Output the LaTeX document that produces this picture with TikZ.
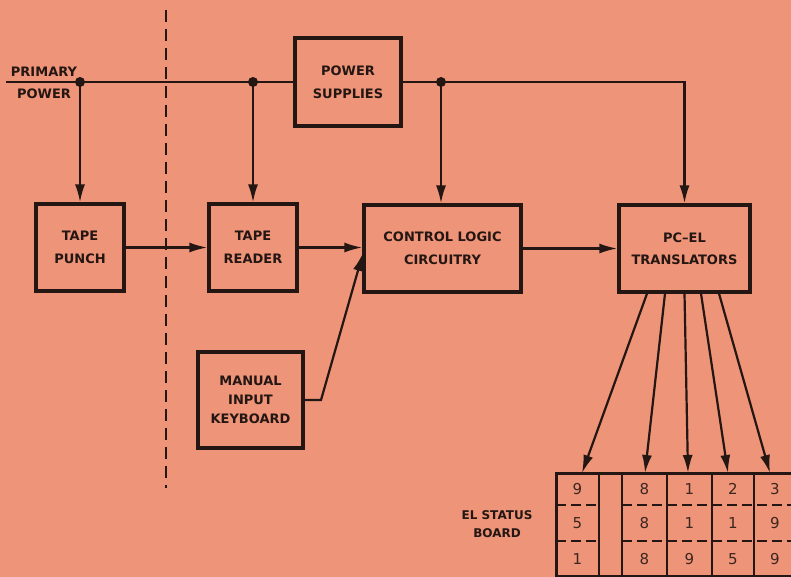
\documentclass[tikz,border=0pt]{standalone}
\usepackage{fontspec}
\setmainfont{DejaVu Sans}
\usetikzlibrary{arrows.meta}
\definecolor{bgc}{RGB}{238,148,120}
\definecolor{ink}{RGB}{36,22,18}
\definecolor{digit}{RGB}{60,38,32}
\begin{document}
\begin{tikzpicture}[x=1pt,y=-1pt,
  box/.style={draw=ink,line width=3.2pt,align=center,inner sep=0pt,text=ink},
  bf/.style={font=\bfseries\fontsize{13}{23}\selectfont},
  conn/.style={draw=ink,line width=2.2pt},
  arr/.style={conn,-{Latex[length=18pt,width=10pt]}},
  dotc/.style={circle,fill=ink,inner sep=0pt,minimum size=10pt},
  lbl/.style={font=\bfseries\fontsize{13}{19}\selectfont,text=ink,align=center,inner sep=0pt},
  dig/.style={font=\fontsize{15}{15}\selectfont,text=digit,inner sep=0pt}]
\fill[bgc] (0,0) rectangle (791,577);
\useasboundingbox (0,0) rectangle (791,577);

% dashed separator
\draw[ink,line width=2pt,dash pattern=on 12pt off 7pt] (166,10) -- (166,488);

% boxes
\node[box,bf,minimum width=106pt,minimum height=88pt] (ps) at (348,82) {POWER\\SUPPLIES};
\node[box,bf,minimum width=88pt,minimum height=87pt] (tp) at (80,247.5) {TAPE\\PUNCH};
\node[box,bf,minimum width=88pt,minimum height=87pt] (tr) at (253,247.5) {TAPE\\READER};
\node[box,bf,minimum width=157pt,minimum height=87pt] (cl) at (442.5,248.5) {CONTROL LOGIC\\CIRCUITRY};
\node[box,minimum width=131pt,minimum height=87pt,font=\bfseries\fontsize{13}{22}\selectfont] (pc) at (684.5,248.5) {PC--EL\\TRANSLATORS};
\node[box,minimum width=105pt,minimum height=96pt,font=\bfseries\fontsize{13}{19}\selectfont] (kb) at (250.5,400) {MANUAL\\INPUT\\KEYBOARD};

% power bus
\coordinate (pin) at (6,82);
\node[dotc] (d1) at (80,82) {};
\node[dotc] (d2) at (253,82) {};
\node[dotc] (d3) at (441,82) {};
\coordinate (corner) at (684.5,82);
\draw[conn] (pin) -- (ps.west);
\draw[arr] (ps.east) -- (corner) -- (pc.north);
\draw[arr] (d1.center) -- (tp.north);
\draw[arr] (d2.center) -- (tr.north);
\draw[arr] (d3.center) -- (d3 |- cl.north);

\node[lbl] (prim) at (44,72) {PRIMARY};
\node[lbl] (pow) at (44,94) {POWER};

% signal flow
\draw[arr] (tp.east) -- (tr.west);
\draw[arr] (tr.east) -- (tr.east -| cl.west);
\coordinate (kbk) at (321,400);
\coordinate (kbin) at (363,253);
\draw[arr] (kb.east) -- (kbk) -- (kbin);
\draw[arr] (cl.east) -- (pc.west);

% status board
\coordinate (b1) at (582,473);
\coordinate (b2) at (645,473);
\coordinate (b3) at (688,473);
\coordinate (b4) at (728,473);
\coordinate (b5) at (770,473);
\draw[arr] ([xshift=-37.5pt]pc.south) -- (b1);
\draw[arr] ([xshift=-19.5pt]pc.south) -- (b2);
\draw[arr] (pc.south) -- (b3);
\draw[arr] ([xshift=16.5pt]pc.south) -- (b4);
\draw[arr] ([xshift=34.5pt]pc.south) -- (b5);

\draw[ink,line width=3pt] (556,580) -- (556,473) -- (800,473);
\draw[ink,line width=3pt] (556,576) -- (800,576);
\foreach \x in {599,622,667,712,754} \draw[ink,line width=2.6pt] (\x,473) -- (\x,580);
\draw[ink,line width=2pt,dash pattern=on 10pt off 5pt] (556,505) -- (599,505) (622,505) -- (800,505);
\draw[ink,line width=2pt,dash pattern=on 10pt off 5pt] (556,541) -- (599,541) (622,541) -- (800,541);

\node[dig] at (577.5,489) {9};
\node[dig] at (577.5,523) {5};
\node[dig] at (577.5,559) {1};
\node[dig] at (644.5,489) {8};
\node[dig] at (644.5,523) {8};
\node[dig] at (644.5,559) {8};
\node[dig] at (689.5,489) {1};
\node[dig] at (689.5,523) {1};
\node[dig] at (689.5,559) {9};
\node[dig] at (733,489) {2};
\node[dig] at (733,523) {1};
\node[dig] at (733,559) {5};
\node[dig] at (775,489) {3};
\node[dig] at (775,523) {9};
\node[dig] at (775,559) {9};

\node[lbl,font=\bfseries\fontsize{12}{18}\selectfont] (elsb) at (497,524) {EL STATUS\\BOARD};
\end{tikzpicture}
\end{document}
